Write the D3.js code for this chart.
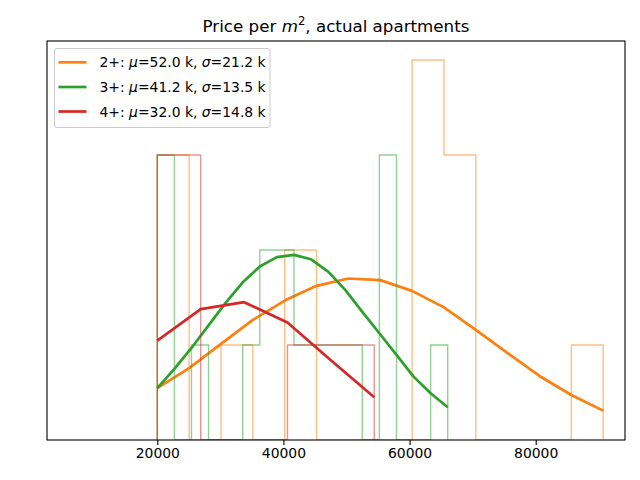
<!DOCTYPE html>
<html>
<head>
<meta charset="utf-8">
<script src="https://cdn.jsdelivr.net/npm/d3@7"></script>
<style>
  html, body { margin: 0; padding: 0; background: #fff; }
  svg { display: block; font-family: "DejaVu Sans", sans-serif; }
</style>
</head>
<body>
<svg id="chart" width="640" height="480"></svg>
<script>
// ---- data ----
const seriesNames = ["2+", "3+", "4+"];
const seriesMu = ["52.0", "41.2", "32.0"];
const seriesSigma = ["21.2", "13.5", "14.8"];
const seriesColors = ["#ff7f0e", "#2ca02c", "#d62728"];

// histogram range (min, max) and bin counts per series
const range2 = [20000, 90700];
const counts2 = [3, 0, 1, 0, 2, 0, 0, 0, 4, 3, 0, 0, 0, 1];
const range3 = [20000, 66050];
const counts3 = [3, 0, 1, 0, 0, 1, 2, 2, 1, 1, 1, 1, 0, 3, 0, 0, 1];
const range4 = [20000, 54400];
const counts4 = [3, 0, 0, 1, 1];

// fitted normal curve values at the bin edges (scaled to count axis)
const curve2 = [0.545, 0.756, 1.012, 1.264, 1.468, 1.623, 1.700, 1.683, 1.570, 1.396, 1.159, 0.914, 0.674, 0.474, 0.309];
const curve3 = [0.545, 0.748, 0.969, 1.207, 1.444, 1.660, 1.826, 1.925, 1.949, 1.902, 1.773, 1.581, 1.349, 1.124, 0.896, 0.667, 0.492, 0.345];
const curve4 = [1.046, 1.377, 1.451, 1.236, 0.840, 0.450];

const xTicks = [20000, 40000, 60000, 80000];
const xDomain = [2510, 94160];
const yDomain = [0, 4.2];

// ---- layout ----
const svg = d3.select("#chart");
const pLeft = 47, pRight = 625, pTop = 41, pBottom = 440;
const x = d3.scaleLinear().domain(xDomain).range([pLeft, pRight]);
const y = d3.scaleLinear().domain(yDomain).range([pBottom, pTop]);

const ranges = [range2, range3, range4];
const countsAll = [counts2, counts3, counts4];
const curves = [curve2, curve3, curve4];

function edgesOf(r, n) {
  const e = [];
  for (let i = 0; i <= n; i++) e.push(r[0] + (r[1] - r[0]) * i / n);
  return e;
}

svg.append("defs").append("clipPath").attr("id", "clip")
  .append("rect").attr("x", pLeft).attr("y", pTop).attr("width", pRight - pLeft).attr("height", pBottom - pTop);
const plot = svg.append("g").attr("clip-path", "url(#clip)");

const line = d3.line().x(d => x(d[0])).y(d => y(d[1]));

for (let s = 0; s < 3; s++) {
  const c = countsAll[s];
  const e = edgesOf(ranges[s], c.length);
  // step outline
  const pts = [[e[0], 0]];
  for (let i = 0; i < c.length; i++) {
    pts.push([e[i], c[i]]);
    pts.push([e[i + 1], c[i]]);
  }
  pts.push([e[e.length - 1], 0]);
  plot.append("path")
    .attr("d", line(pts))
    .attr("fill", "none")
    .attr("stroke", seriesColors[s])
    .attr("stroke-opacity", 0.5)
    .attr("stroke-width", 1.4)
    .attr("stroke-linejoin", "miter");
  // curve
  const cp = curves[s].map((v, i) => [e[i], v]);
  plot.append("path")
    .attr("d", line(cp))
    .attr("fill", "none")
    .attr("stroke", seriesColors[s])
    .attr("stroke-width", 2.7)
    .attr("stroke-linejoin", "round")
    .attr("stroke-linecap", "butt");
}

// axes frame
svg.append("rect")
  .attr("x", pLeft).attr("y", pTop)
  .attr("width", pRight - pLeft).attr("height", pBottom - pTop)
  .attr("fill", "none").attr("stroke", "#000").attr("stroke-width", 1.1);

// x axis
const xAxis = d3.axisBottom(x).tickValues(xTicks).tickFormat(d3.format("d")).tickSize(4.9).tickPadding(3.5);
const gx = svg.append("g").attr("transform", `translate(0,${pBottom})`).call(xAxis);
gx.select(".domain").remove();
gx.selectAll("text").attr("font-size", "13.9px").attr("font-family", "DejaVu Sans, sans-serif").attr("fill", "#000");
gx.selectAll("line").attr("stroke", "#000").attr("stroke-width", 1.1);

// title
const title = svg.append("text")
  .attr("x", (pLeft + pRight) / 2).attr("y", 31.5)
  .attr("text-anchor", "middle")
  .attr("font-size", "16.7px")
  .attr("fill", "#000");
title.append("tspan").text("Price per ");
title.append("tspan").attr("font-style", "italic").text("m");
title.append("tspan").attr("font-size", "11.7px").attr("dy", -6.5).text("2");
title.append("tspan").attr("dy", 6.5).text(", actual apartments");

// legend
const lg = svg.append("g");
lg.append("rect")
  .attr("x", 54.5).attr("y", 48.5).attr("width", 215.5).attr("height", 79)
  .attr("rx", 2.5).attr("ry", 2.5)
  .attr("fill", "#fff").attr("fill-opacity", 0.8)
  .attr("stroke", "#cccccc").attr("stroke-width", 1);
const rowsY = [62.3, 87, 111.5];
for (let s = 0; s < 3; s++) {
  lg.append("line")
    .attr("x1", 58.5).attr("x2", 86.5)
    .attr("y1", rowsY[s]).attr("y2", rowsY[s])
    .attr("stroke", seriesColors[s]).attr("stroke-width", 2.7);
  const t = lg.append("text")
    .attr("x", 99.5).attr("y", rowsY[s] + 5)
    .attr("font-size", "13.9px").attr("fill", "#000");
  t.append("tspan").text(seriesNames[s] + ": ");
  t.append("tspan").attr("font-style", "italic").text("μ");
  t.append("tspan").text("=" + seriesMu[s] + " k, ");
  t.append("tspan").attr("font-style", "italic").text("σ");
  t.append("tspan").text("=" + seriesSigma[s] + " k");
}
</script>
</body>
</html>
